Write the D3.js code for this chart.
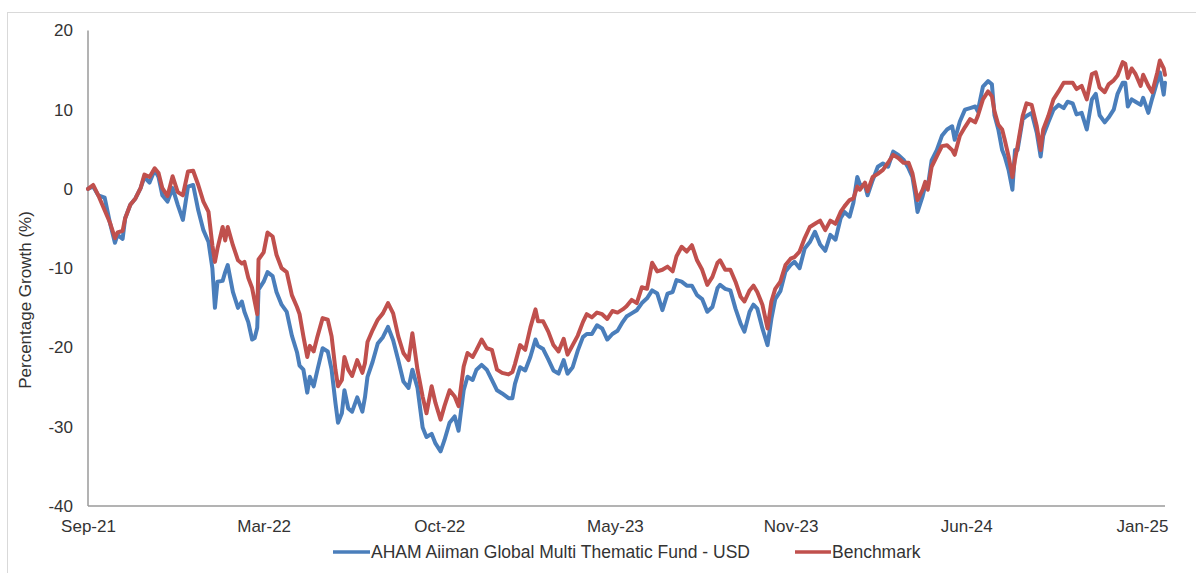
<!DOCTYPE html>
<html>
<head>
<meta charset="utf-8">
<script src="https://cdn.jsdelivr.net/npm/d3@7"></script>
<style>
  html, body { margin: 0; padding: 0; background: #fff; }
  svg { display: block; }
  text { font-family: "Liberation Sans", Arial, sans-serif; fill: #333; }
</style>
</head>
<body>
<svg id="chart" width="1196" height="573"></svg>
<script>
// ---- Data (trading-day index from start, % growth) ----
const dayIndex = [0,4,8,13,17,21,23,27,29,33,37,41,44,48,52,55,58,62,66,70,74,78,82,86,90,94,97,99,101,105,107,109,113,117,120,122,125,128,130,132,133,137,140,144,147,151,155,159,163,165,168,171,173,176,179,183,187,190,193,195,198,200,203,206,210,214,216,218,222,226,230,234,238,242,246,250,253,257,261,264,268,271,275,278,282,286,289,293,296,300,303,307,311,315,319,323,328,331,333,337,341,345,349,351,355,359,363,367,371,374,378,382,386,389,393,397,401,405,409,413,417,420,424,428,432,436,440,444,448,452,456,459,463,467,471,475,479,483,487,491,493,497,501,505,509,512,516,519,522,526,530,533,536,540,544,548,551,555,559,563,567,571,575,579,583,587,590,594,597,600,602,606,608,612,616,620,624,628,632,636,640,643,645,647,651,653,655,658,662,666,670,674,676,680,684,688,692,694,698,702,705,707,710,713,715,718,721,723,725,729,732,736,740,743,745,749,753,757,761,764,768,771,775,779,783,786,789,793,796,800,803,807,809,811,814,817,821,823,827,830,834,836,839,840];

const fundValues = [0,0.3,-0.8,-1.1,-4.2,-6.8,-5.8,-6.3,-3.7,-2.0,-1.2,0.1,1.5,0.8,2.4,1.5,-0.8,-1.6,0.1,-2.0,-3.9,0.3,0.5,-2.7,-5.2,-6.7,-10.0,-15.0,-11.7,-11.6,-10.5,-9.6,-13.0,-15.0,-14.2,-15.5,-16.8,-19.0,-18.8,-17.5,-12.7,-11.7,-10.5,-11.0,-13.0,-14.6,-15.5,-18.5,-20.6,-22.3,-22.8,-25.7,-23.7,-24.9,-22.8,-20.1,-20.5,-22.8,-27.0,-29.5,-28.3,-25.4,-27.7,-28.1,-26.3,-28.1,-26.3,-23.7,-21.8,-19.5,-18.7,-17.4,-19.1,-21.6,-24.3,-25.1,-22.8,-25.1,-30.1,-31.3,-30.9,-32.1,-33.1,-31.7,-29.5,-28.7,-30.5,-25.4,-23.7,-24.1,-22.8,-22.2,-22.8,-24.1,-25.4,-25.8,-26.4,-26.4,-24.6,-22.5,-22.9,-21.2,-19.0,-19.8,-20.2,-21.5,-22.9,-23.3,-21.6,-23.3,-22.5,-20.4,-18.7,-18.3,-18.3,-17.2,-17.6,-19.0,-18.3,-17.9,-16.8,-16.1,-15.7,-15.3,-14.4,-13.8,-12.8,-13.2,-15.3,-13.2,-13.0,-11.5,-11.7,-12.2,-12.2,-13.4,-13.9,-15.5,-14.9,-12.5,-12.1,-12.6,-12.8,-15.1,-17.0,-18.0,-15.5,-14.6,-15.1,-17.6,-19.7,-16.4,-13.9,-12.9,-10.4,-9.6,-9.2,-10.0,-7.5,-6.7,-5.4,-7.0,-7.8,-5.8,-6.4,-3.7,-2.9,-3.5,-1.7,1.5,0.6,0.4,-0.8,1.1,2.8,3.2,2.8,4.7,4.3,3.7,2.6,1.5,-0.5,-2.9,-0.9,0.4,0.3,3.6,4.9,6.7,7.5,7.9,6.2,8.5,10.0,10.2,10.4,9.8,12.9,13.6,13.2,9.3,7.5,4.9,4.1,2.4,-0.1,4.9,4.9,8.8,9.2,9.6,7.1,4.1,6.7,8.4,10.0,10.6,10.2,11.0,10.8,9.4,9.6,7.5,11.3,12.0,9.3,8.4,9.0,10.0,12.0,13.4,13.4,10.4,11.3,11.0,10.6,11.5,9.6,11.4,13.6,14.7,11.9,13.4];

const benchmarkValues = [0,0.5,-0.8,-2.7,-4.2,-6.2,-5.5,-5.3,-3.7,-2.0,-1.2,0.1,1.8,1.5,2.6,2.0,0.1,-0.9,1.6,-0.4,-0.8,2.2,2.3,0.5,-1.6,-2.9,-7.1,-9.2,-7.5,-4.8,-6.5,-4.8,-7.1,-9.0,-9.4,-9.2,-11.2,-12.5,-14.2,-15.8,-8.9,-8.0,-5.5,-6.0,-8.3,-10.0,-10.5,-13.4,-14.9,-15.8,-18.6,-21.2,-19.8,-20.5,-18.6,-16.3,-16.5,-18.6,-22.8,-24.9,-24.1,-21.2,-22.8,-23.6,-21.6,-23.2,-22.0,-19.3,-17.8,-16.5,-15.7,-14.4,-15.7,-18.6,-20.7,-21.6,-18.2,-22.8,-26.2,-28.3,-24.9,-27.0,-29.1,-27.4,-25.4,-26.2,-27.4,-22.4,-20.7,-21.2,-20.3,-19.0,-20.1,-20.3,-22.8,-23.2,-23.4,-23.1,-22.1,-19.7,-20.3,-17.5,-15.2,-16.7,-16.7,-18.0,-19.7,-20.5,-18.9,-20.9,-19.7,-18.5,-16.8,-15.8,-16.2,-15.6,-15.8,-16.4,-15.4,-15.6,-15.2,-14.8,-14.0,-14.4,-12.4,-12.6,-9.3,-10.4,-10.2,-9.8,-10.4,-8.5,-7.3,-7.9,-7.1,-9.0,-10.2,-12.1,-11.1,-9.3,-9.0,-10.2,-10.2,-11.7,-13.6,-14.2,-12.8,-12.2,-13.0,-14.6,-17.6,-14.2,-12.6,-11.7,-9.6,-8.8,-8.6,-7.9,-6.2,-4.8,-4.4,-4.0,-5.2,-4.0,-4.4,-2.9,-2.2,-1.4,-1.2,0.3,-0.1,0.8,-0.3,1.5,1.9,2.4,3.3,4.3,3.9,3.3,3.3,2.0,0.3,-1.4,-0.1,0.9,-0.1,2.8,4.1,5.4,5.5,4.9,4.3,6.7,7.8,8.8,8.4,9.2,11.3,12.3,11.7,9.8,8.1,7.5,6.2,4.1,1.5,3.7,5.4,9.2,10.8,10.6,7.9,4.9,7.5,9.2,11.3,12.3,13.4,13.4,13.4,12.6,13.0,11.3,14.5,14.7,12.8,12.2,13.2,13.7,14.3,16.0,15.8,14.0,15.2,14.5,13.0,14.4,13.0,12.2,14.7,16.2,15.2,14.4];

const xTickIndex = [0,137,274,411,548,685,822];
const xTickLabels = ["Sep-21","Mar-22","Oct-22","May-23","Nov-23","Jun-24","Jan-25"];
const yTicks = [-40,-30,-20,-10,0,10,20];
const seriesNames = ["AHAM Aiiman Global Multi Thematic Fund - USD", "Benchmark"];
const seriesColors = ["#4a7ebb", "#c0504d"];

// ---- Chart ----
const svg = d3.select("#chart");
const W = 1196, H = 573;
const plot = { left: 88, right: 1165, top: 30.4, bottom: 506 };
const FONT = '"Liberation Sans", Arial, sans-serif';

// outer frame
svg.append("rect")
  .attr("x", 7.5).attr("y", 12.5)
  .attr("width", W + 10).attr("height", H + 10)
  .attr("fill", "none").attr("stroke", "#d9d9d9").attr("stroke-width", 1);

const x = d3.scaleLinear().domain([0, 840]).range([plot.left, plot.right]);
const y = d3.scaleLinear().domain([-40, 20]).range([plot.bottom, plot.top]);

// y axis labels (plain hyphen minus, as in the reference)
const yAxis = d3.axisLeft(y).tickValues(yTicks).tickSize(0).tickPadding(15).tickFormat(d => String(d));
const gy = svg.append("g").attr("transform", `translate(${plot.left},0)`).call(yAxis);
gy.select(".domain").remove();
gy.selectAll("text").style("font-size", "17px").style("font-family", FONT).attr("fill", "#333");

// x axis labels
const xAxis = d3.axisBottom(x).tickValues(xTickIndex).tickSize(0).tickPadding(14)
  .tickFormat((d, i) => xTickLabels[i]);
const gx = svg.append("g").attr("transform", `translate(0,${plot.bottom})`).call(xAxis);
gx.select(".domain").remove();
gx.selectAll("text").style("font-size", "17px").style("font-family", FONT).attr("fill", "#333");

// axis lines
svg.append("line")
  .attr("x1", plot.left).attr("x2", plot.left)
  .attr("y1", y(20)).attr("y2", y(-40))
  .attr("stroke", "#9a9a9a").attr("stroke-width", 1.5);
svg.append("line")
  .attr("x1", plot.left).attr("x2", plot.right)
  .attr("y1", y(-40)).attr("y2", y(-40))
  .attr("stroke", "#9a9a9a").attr("stroke-width", 1.5);

// y title
svg.append("text")
  .attr("transform", `translate(25,300) rotate(-90)`)
  .attr("text-anchor", "middle")
  .attr("dominant-baseline", "central")
  .style("font-size", "17px")
  .text("Percentage Growth (%)");

// lines
const line = d3.line().x((d, i) => x(dayIndex[i])).y(d => y(d)).curve(d3.curveLinear);
[fundValues, benchmarkValues].forEach((vals, k) => {
  svg.append("path")
    .datum(vals)
    .attr("d", line)
    .attr("fill", "none")
    .attr("stroke", seriesColors[k])
    .attr("stroke-width", 4)
    .attr("stroke-linejoin", "round")
    .attr("stroke-linecap", "round");
});

// legend
const legendY = 552;
const legendItems = [
  { x1: 333, x2: 370, tx: 371 },
  { x1: 795, x2: 831, tx: 832 }
];
legendItems.forEach((it, k) => {
  svg.append("line")
    .attr("x1", it.x1).attr("x2", it.x2)
    .attr("y1", legendY).attr("y2", legendY)
    .attr("stroke", seriesColors[k]).attr("stroke-width", 3.6);
  svg.append("text")
    .attr("x", it.tx).attr("y", legendY)
    .attr("dominant-baseline", "central")
    .style("font-size", "17.5px")
    .text(seriesNames[k]);
});
</script>
</body>
</html>
